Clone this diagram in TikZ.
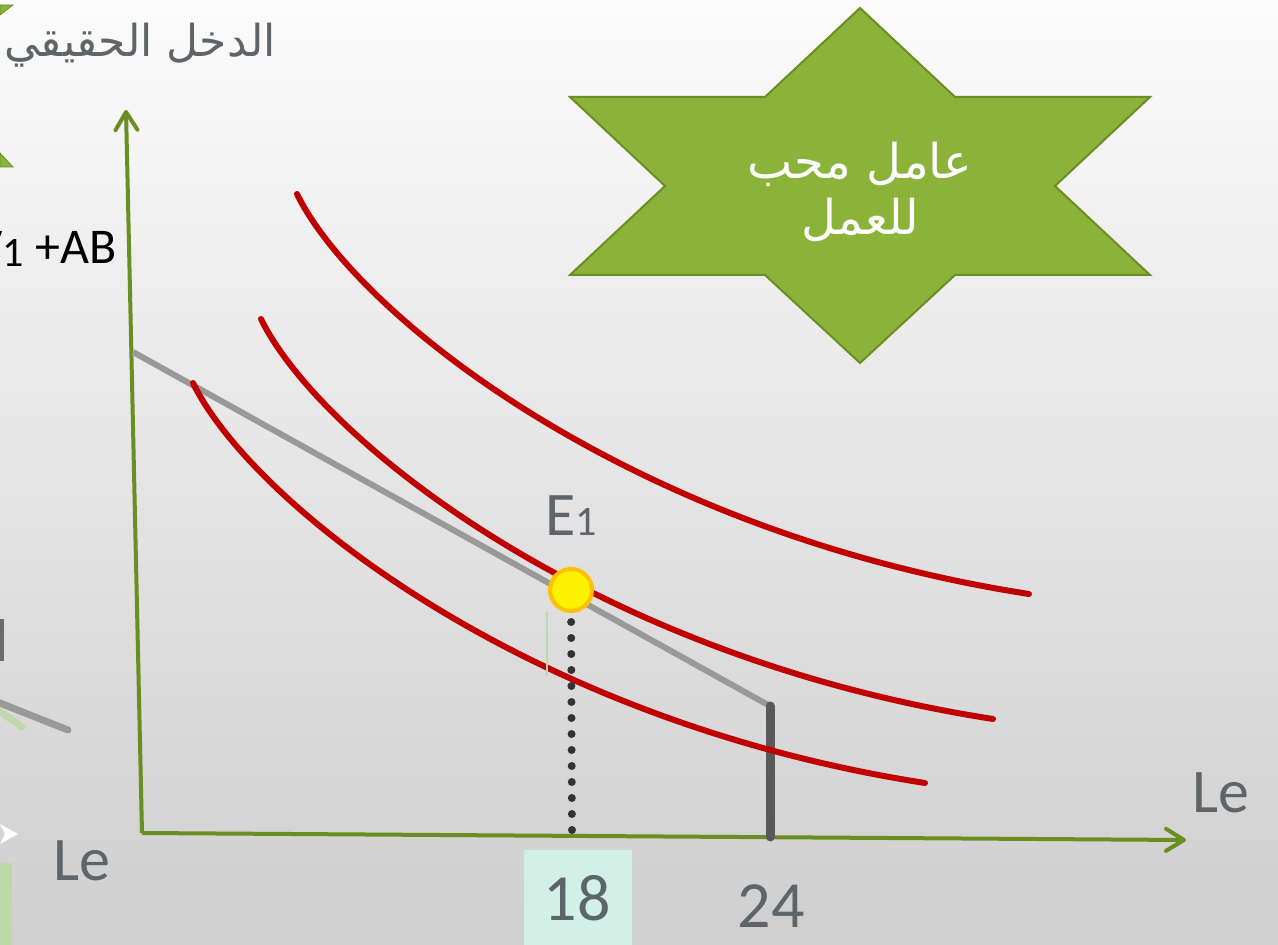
\documentclass[tikz,border=0pt]{standalone}
\usepackage{fontspec}
\setmainfont{Carlito}
\newfontfamily\arabicfont[Script=Arabic]{DejaVu Sans}
\TeXXeTstate=1
\usepackage{xcolor}
\usetikzlibrary{arrows.meta}
\definecolor{axisgreen}{HTML}{6B8E23}
\definecolor{stargreen}{HTML}{8BB33A}
\definecolor{curvered}{HTML}{C00000}
\definecolor{lblgray}{HTML}{5D6568}
\definecolor{budgetgray}{HTML}{999999}
\definecolor{bargray}{HTML}{595959}
\definecolor{mint}{HTML}{D3F0E6}
\definecolor{palegreen}{HTML}{BFD8AB}
\definecolor{ringorange}{HTML}{FFC000}

\begin{document}
\begin{tikzpicture}[x=0.5pt,y=-0.5pt,
  axis/.style={axisgreen,line width=2pt,-{Straight Barb[length=9pt,width=11pt,round]}},
  icurve/.style={curvered,line width=3pt,line cap=round},
  lbl/.style={lblgray,font=\fontsize{31}{36}\selectfont}]
  \useasboundingbox (0,0) rectangle (1278,945);
  \clip (0,0) rectangle (1278,945);
  \shade[top color=white!97!gray,bottom color=black!19] (0,0) rectangle (1278,945);
  % pieces of the slide on the left
  \filldraw[fill=stargreen,draw=axisgreen,thin] (0,5)--(13,5)--(0,15)--cycle;
  \filldraw[fill=stargreen,draw=axisgreen,thin] (0,153)--(13,167)--(0,167)--cycle;
  \fill[bargray!90!white] (-4,619) rectangle (4,661);
  \draw[palegreen,line width=3.5pt,line cap=round] (-5,708)--(22,727);
  \draw[gray!80,line width=3.5pt,line cap=round] (-5,701) .. controls (25,713) .. (68,730);
  \fill[white] (0,824)--(18,834)--(0,844)--(5,834)--cycle;
  \fill[palegreen] (0,863) rectangle (12,945);
  \node[anchor=base east,inner sep=0pt,font=\fontsize{25}{30}\selectfont] (wlbl) at (117,264)
    {V\raisebox{-1.5pt}{\fontsize{21}{24}\selectfont 1} +AB};
  \node[lbl,anchor=base west] (leleft) at (46,880) {Le};
  % axes
  \coordinate (O) at (142,833);
  \coordinate (ytop) at (126,110);
  \coordinate (xend) at (1186,840);
  \draw[axis] (O)--(ytop);
  \draw[axis] (O)--(xend);
  \node[lblgray,font=\arabicfont\fontsize{22}{26}\selectfont] (ylbl) at (140,45)
    {\beginR الدخل الحقيقي\endR};
  \node[lbl,anchor=base west] (xlbl) at (1185,812) {Le};
  % budget line
  \coordinate (bstart) at (133,352);
  \coordinate (bcorner) at (770,706);
  \coordinate (bfoot) at (770,837);
  \draw[budgetgray,line width=3pt] (bstart)--(bcorner);
  \draw[bargray,line width=4.5pt,line cap=round] (bcorner)--(bfoot);
  % indifference curves
  \foreach \dx/\dy in {0/0,68/-64,104/-189}
    \draw[icurve,shift={(\dx,\dy)}] (193,383) .. controls (250,500) and (520,720) .. (925,783);
  % equilibrium
  \fill[mint] (524,850) rectangle (632,945);
  \draw[palegreen,line width=0.6pt] (547,612)--(547,676);
  \coordinate (E1) at (571,590);
  \coordinate (E1foot) at (572,838);
  \draw[black!80,line width=4pt,line cap=round,dash pattern=on 0pt off 8pt] (E1)--(E1foot);
  \filldraw[fill=yellow,draw=ringorange,line width=2pt] (E1) circle (10.5pt);
  \node[lbl,anchor=base west] (e1lbl) at (538,536)
    {E\fontsize{21}{24}\selectfont 1};
  \node[lbl,anchor=base,font=\fontsize{33}{38}\selectfont] (t18) at (577,920) {18};
  \node[lbl,anchor=base,font=\fontsize{33}{38}\selectfont] (t24) at (771,927) {24};
  % star
  \filldraw[fill=stargreen,draw=axisgreen,line width=1pt]
    (860,8)--(955,97)--(1150,97)--(1055,186)--(1150,275)--(955,275)--(860,363)
    --(765,275)--(570,275)--(665,186)--(570,97)--(765,97)--cycle;
  \node[white,align=center,font=\arabicfont\fontsize{24}{28}\selectfont] (startxt) at (860,192)
    {\beginR عامل محب\endR\\\beginR للعمل\endR};
\end{tikzpicture}
\end{document}
